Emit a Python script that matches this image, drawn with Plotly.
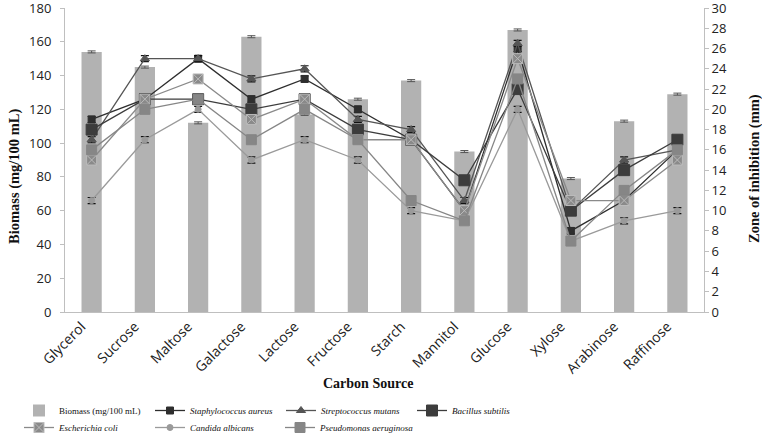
import plotly.graph_objects as go

categories = ["Glycerol", "Sucrose", "Maltose", "Galactose", "Lactose", "Fructose",
              "Starch", "Mannitol", "Glucose", "Xylose", "Arabinose", "Raffinose"]
biomass = [154, 145, 112, 163, 117, 126, 137, 95, 167, 79, 113, 129]
biomass_err = [0.6] * 12

s_aureus = [19, 21, 25, 21, 23, 20, 17, 10, 26, 8, 11, 16]
s_mutans = [17, 25, 25, 23, 24, 19, 18, 11, 26.5, 10, 15, 16]
b_subtilis = [18, 21, 21, 20, 21, 18, 17, 13, 22, 10, 14, 17]
e_coli = [15, 21, 23, 19, 21, 17, 17, 10, 25, 11, 11, 15]
c_albicans = [11, 17, 20, 15, 17, 15, 10, 9, 20, 7, 9, 10]
p_aeruginosa = [16, 20, 21, 17, 20, 17, 11, 9, 23, 7, 12, 16]
line_err = [0.3] * 12

SERIF = "Liberation Serif"
W, H = 762, 438
ML, MR, MT, MB = 65, 58, 8, 126
PW, PH = W - ML - MR, H - MT - MB


def px_x(px):
    return (px - ML) / PW


def px_y(py):
    return (H - MB - py) / PH


fig = go.Figure()
fig.add_trace(go.Bar(x=categories, y=biomass, name="Biomass (mg/100 mL)", legend="legend",
                     marker=dict(color="#b2b2b2", line=dict(width=0)), width=0.38,
                     error_y=dict(type="data", array=biomass_err, color="#555", thickness=1, width=4)))

series = [
    ("<i>Staphylococcus aureus</i>", s_aureus, "#2e2e2e", "square", 7, "legend"),
    ("<i>Streptococcus mutans</i>", s_mutans, "#555555", "triangle-up", 8, "legend"),
    ("<i>Bacillus subtilis</i>", b_subtilis, "#3c3c3c", "square", 11, "legend"),
    ("<i>Escherichia coli</i>", e_coli, "#8a8a8a", "square-x", 10, "legend2"),
    ("<i>Candida albicans</i>", c_albicans, "#9a9a9a", "circle", 6, "legend2"),
    ("<i>Pseudomonas aeruginosa</i>", p_aeruginosa, "#868686", "square", 10, "legend3"),
]
for name, vals, col, sym, sz, leg in series:
    fig.add_trace(go.Scatter(x=categories, y=vals, name=name, yaxis="y2", legend=leg,
                             mode="lines+markers",
                             line=dict(color=col, width=1.3),
                             marker=dict(symbol=sym, size=sz, color=col,
                                         line=dict(color="#bbbbbb" if sym == "square-x" else col, width=1)),
                             error_y=dict(type="data", array=line_err, color="#111", thickness=1.2, width=4)))


def legend_at(x_px, y_px, ew):
    return dict(x=x_px / W, y=1 - y_px / H, orientation="h", xanchor="left", yanchor="top",
                xref="container", yref="container",
                entrywidth=ew, entrywidthmode="pixels", traceorder="normal",
                font=dict(family=SERIF, size=9, color="#111"),
                itemwidth=30, tracegroupgap=0, bgcolor="rgba(0,0,0,0)")


fig.update_layout(
    width=W, height=H,
    margin=dict(l=ML, r=MR, t=MT, b=MB, autoexpand=False),
    plot_bgcolor="white", paper_bgcolor="white",
    font=dict(family="Open Sans", size=12, color="#222"),
    bargap=0.6,
    xaxis=dict(range=[-0.5, 11.5], tickangle=-45, showline=True, linecolor="#bfbfbf", ticks="",
               showgrid=False, automargin=False, ticklabelshift=-10,
               tickfont=dict(size=14, family="Open Sans")),
    yaxis=dict(range=[0, 180], dtick=20, showgrid=False, showline=True, linecolor="#bfbfbf",
               ticks="outside", ticklen=4, tickcolor="#bfbfbf", zeroline=False, automargin=False,
               ticklabeloverflow="allow", ticklabelstandoff=6, tickfont=dict(size=13)),
    yaxis2=dict(range=[0, 30], dtick=2, overlaying="y", side="right", showgrid=False,
                showline=True, linecolor="#bfbfbf", ticks="outside", ticklen=4, tickcolor="#bfbfbf",
                zeroline=False, automargin=False, ticklabeloverflow="allow", tickfont=dict(size=13)),
    legend=legend_at(19, 396, 86),
    legend2=legend_at(19, 413, 86),
    legend3=legend_at(280, 413, 130),
    annotations=[
        dict(text="<b>Carbon Source</b>", xref="paper", yref="paper",
             x=px_x(368), y=px_y(383), xanchor="center", yanchor="middle",
             showarrow=False, font=dict(family=SERIF, size=14, color="#111")),
        dict(text="<b>Biomass (mg/100 mL)</b>", xref="paper", yref="paper", textangle=-90,
             x=px_x(15), y=px_y(176), xanchor="center", yanchor="middle",
             showarrow=False, font=dict(family=SERIF, size=14.5, color="#111")),
        dict(text="<b>Zone of inhibition (mm)</b>", xref="paper", yref="paper", textangle=-90,
             x=px_x(754), y=px_y(169), xanchor="center", yanchor="middle",
             showarrow=False, font=dict(family=SERIF, size=14.5, color="#111")),
    ],
    showlegend=True,
)

fig.write_html("out.html", config={"displayModeBar": False},
               post_script="document.body.style.margin='0';")
